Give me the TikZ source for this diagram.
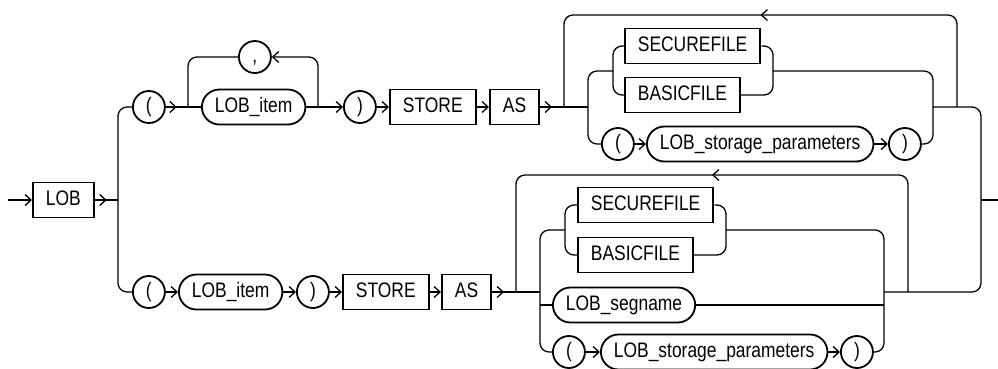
\documentclass[tikz,border=0pt]{standalone}
\usepackage{fontspec}
\setmainfont{Liberation Sans}[FakeStretch=0.83]
\usetikzlibrary{arrows.meta,decorations.markings}

\begin{document}
\begin{tikzpicture}[
            x=1pt, y=-1pt,
            >={Straight Barb[length=6pt,width=11pt]}, % 箭头样式
            rail/.style={line width=1.3pt}, % 连线
            kw/.style={draw, line width=1.8pt, minimum height=35pt, inner xsep=13pt, inner ysep=0pt,
                text height=15pt, text depth=4pt, font=\fontsize{21}{24}\selectfont, anchor=west}, % 关键字
            term/.style={kw, rounded corners=17.5pt}, % 非终结符
            sym/.style={kw, circle, minimum size=32pt, inner sep=0pt}, % 符号
            arrowat/.style={postaction={decorate},
                decoration={markings, mark=at position #1 with {\arrow{>}}}}
        ]
        \useasboundingbox (0,0) rectangle (998,368);

        % 入口 LOB
        \coordinate (start) at (8,200);
        \node[kw] (lob) at (32,200) {LOB};
        \coordinate (s1) at (118,200);
        \draw[rail,->] (start) -- (lob);
        \draw[rail,arrowat=12pt] (lob) -- (s1);

        % 上支: ( LOB_item , ... ) STORE AS
        \node[sym] (lp1) at (132,107) {(};
        \node[sym] (comma) at (238,57) {,};
        \node[term] (item1) at (201,107) {LOB\_item};
        \node[sym] (rp1) at (343,107) {)};
        \node[kw] (store1) at (389,107) {STORE};
        \node[kw] (as1) at (489,107) {AS};
        \coordinate (a1) at (188,107);
        \coordinate (b1) at (318,107);
        \coordinate (c1) at (564,107);
        \coordinate (e1) at (588,107);
        \coordinate (f1) at (933,107);
        \coordinate (d1) at (957,107);
        \coordinate (t1) at (760,15);
        \coordinate (n1) at (613,71);
        \coordinate (m1) at (773,71);
        \draw[rail,rounded corners=9pt] (s1) |- (lp1);
        \draw[rail,arrowat=11pt] (lp1) -- (item1);
        \draw[rail,->,rounded corners=9pt] (b1) |- (comma);
        \draw[rail,rounded corners=9pt] (comma) -| (a1);
        \draw[rail,->] (item1) -- (rp1);
        \draw[rail,->] (rp1) -- (store1);
        \draw[rail,->] (store1) -- (as1);
        \draw[rail,arrowat=12pt] (as1) -- (e1);
        \draw[rail,rounded corners=9pt,arrowat=0.5] (d1) |- (t1) -| (c1);

        % 上支的选项
        \node[kw] (sec1) at (624,46) {SECUREFILE};
        \node[kw] (bas1) at (624,95) {BASICFILE};
        \node[sym] (lp1b) at (601,144) {(};
        \node[term] (par1) at (646,144) {LOB\_storage\_parameters};
        \node[sym] (rp1b) at (888,144) {)};
        \draw[rail,rounded corners=9pt] (e1) |- (n1);
        \draw[rail,rounded corners=9pt] (sec1) -| (n1) |- (bas1);
        \draw[rail,rounded corners=9pt] (sec1) -| (m1) |- (bas1);
        \draw[rail,rounded corners=9pt] (m1) -| (f1);
        \draw[rail,rounded corners=9pt] (e1) |- (lp1b);
        \draw[rail,->] (lp1b) -- (par1);
        \draw[rail,->] (par1) -- (rp1b);
        \draw[rail,rounded corners=9pt] (rp1b) -| (f1);

        % 下支: ( LOB_item ) STORE AS
        \node[sym] (lp2) at (132,292) {(};
        \node[term] (item2) at (178,292) {LOB\_item};
        \node[sym] (rp2) at (296,292) {)};
        \node[kw] (store2) at (342,292) {STORE};
        \node[kw] (as2) at (441,292) {AS};
        \coordinate (c2) at (516,292);
        \coordinate (e2) at (540,292);
        \coordinate (f2) at (884,292);
        \coordinate (d2) at (908,292);
        \coordinate (t2) at (713,175);
        \coordinate (n2) at (565,230);
        \coordinate (m2) at (726,230);
        \draw[rail,rounded corners=9pt] (s1) |- (lp2);
        \draw[rail,->] (lp2) -- (item2);
        \draw[rail,->] (item2) -- (rp2);
        \draw[rail,->] (rp2) -- (store2);
        \draw[rail,->] (store2) -- (as2);
        \draw[rail,arrowat=12pt] (as2) -- (e2);
        \draw[rail,rounded corners=9pt,arrowat=0.5] (d2) |- (t2) -| (c2);

        % 下支的选项
        \node[kw] (sec2) at (577,205) {SECUREFILE};
        \node[kw] (bas2) at (577,255) {BASICFILE};
        \node[term] (seg) at (552,305) {LOB\_segname};
        \node[sym] (lp2b) at (552,352) {(};
        \node[term] (par2) at (600,352) {LOB\_storage\_parameters};
        \node[sym] (rp2b) at (840,352) {)};
        \draw[rail,rounded corners=9pt] (e2) |- (n2);
        \draw[rail,rounded corners=9pt] (sec2) -| (n2) |- (bas2);
        \draw[rail,rounded corners=9pt] (sec2) -| (m2) |- (bas2);
        \draw[rail,rounded corners=9pt] (m2) -| (f2);
        \draw[rail,rounded corners=9pt] (e2) |- (lp2b);
        \draw[rail] (seg.west -| e2) -- (seg);
        \draw[rail] (seg) -- (seg.east -| f2);
        \draw[rail,->] (lp2b) -- (par2);
        \draw[rail,->] (par2) -- (rp2b);
        \draw[rail,rounded corners=9pt] (rp2b) -| (f2);

        % 出口
        \coordinate (g) at (981,200);
        \coordinate (stop) at (998,200);
        \draw[rail,rounded corners=9pt] (f1) -| (g);
        \draw[rail,rounded corners=9pt] (f2) -| (g);
        \draw[rail] (g) -- (stop);

    \end{tikzpicture}
\end{document}
